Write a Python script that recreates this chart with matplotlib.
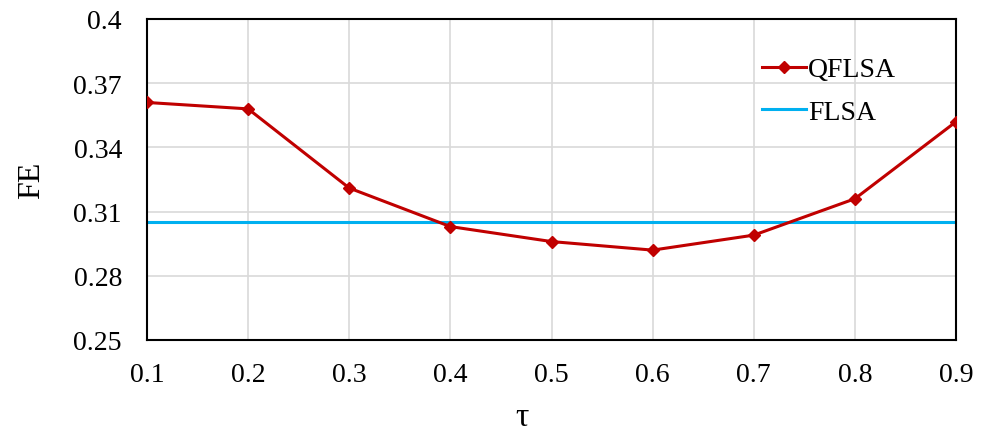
import matplotlib
matplotlib.use("Agg")
import matplotlib.pyplot as plt

tau = [0.1, 0.2, 0.3, 0.4, 0.5, 0.6, 0.7, 0.8, 0.9]
qflsa = [0.361, 0.358, 0.321, 0.303, 0.296, 0.292, 0.299, 0.316, 0.352]
flsa = 0.305
yticks = [0.25, 0.28, 0.31, 0.34, 0.37, 0.4]
ytick_labels = ["0.25", "0.28", "0.31", "0.34", "0.37", "0.4"]

plt.rcParams['font.family'] = ['Liberation Serif', 'DejaVu Serif']

fig = plt.figure(figsize=(9.82, 4.35), dpi=100)
ax = fig.add_axes([147/982, 1 - 341/435, (956-147)/982, (341-20)/435])

ax.plot(tau, qflsa, color='#C00000', lw=2.2, marker='D', ms=6, label='QFLSA', zorder=3)
ax.axhline(flsa, color='#00B0F0', lw=2.2, label='FLSA', zorder=2)

ax.set_xlim(0.1, 0.9)
ax.set_ylim(0.25, 0.4)
ax.set_xticks(tau)
ax.set_xticklabels([f"{t:.1f}" for t in tau])
ax.set_yticks(yticks)
ax.set_yticklabels(ytick_labels)
ax.tick_params(axis='both', length=0, labelsize=20)
ax.tick_params(axis='x', pad=16)
ax.tick_params(axis='y', pad=18)
ax.grid(True, color='#D9D9D9', lw=1.2)
ax.set_axisbelow(True)
for s in ax.spines.values():
    s.set_color('black')
    s.set_linewidth(1.5)

ax.set_xlabel('τ', fontsize=24)
ax.xaxis.set_label_coords((522-147)/(956-147), -(418-341)/(341-20))
ax.set_ylabel('FE', fontsize=23)
ax.yaxis.set_label_coords(-(147-32)/(956-147), 0.5)
ax.xaxis.label.set_va('center')
ax.yaxis.label.set_va('center')

leg = ax.legend(loc='upper left', bbox_to_anchor=((762-147)/809, 1-(58-20)/321),
                borderaxespad=0, borderpad=0, fontsize=20, frameon=False,
                handlelength=1.6, handletextpad=0.05, labelspacing=0.6)

fig.savefig('out.png', dpi=100)
